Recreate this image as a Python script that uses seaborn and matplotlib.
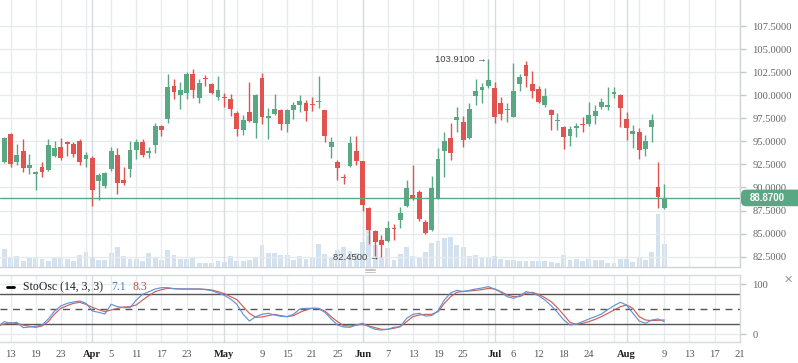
import numpy as np
import matplotlib
matplotlib.use("Agg")
import matplotlib.pyplot as plt
import seaborn as sns
from matplotlib.patches import FancyBboxPatch
from matplotlib.lines import Line2D
from matplotlib.transforms import IdentityTransform

# ---------------- data ----------------
opens = [94.49, 92.76, 95.83, 92.76, 93.95, 92.15, 91.50, 92.22, 91.89, 93.41,
         94.39, 94.93, 94.71, 95.04, 93.12, 93.19, 90.70, 90.16, 92.00, 93.52,
         90.81, 92.00, 94.06, 94.93, 93.74, 94.60, 96.70, 97.42, 101.00, 100.02,
         100.24, 102.30, 99.70, 101.86, 101.21, 99.80, 99.80, 99.59, 98.07, 96.23,
         98.18, 96.99, 101.86, 97.53, 97.96, 98.40, 96.88, 98.40, 98.94, 99.15,
         99.05, 99.30, 98.40, 94.39, 92.76, 91.13, 92.33, 93.95, 92.87, 87.77,
         85.28, 84.31, 84.20, 85.61, 86.47, 87.99, 89.18, 89.51, 86.26, 85.39,
         88.86, 93.95, 95.36, 97.31, 97.10, 95.36, 99.91, 100.56, 101.00, 100.78,
         99.15, 98.43, 97.64, 101.21, 103.28, 101.21, 100.67, 98.94, 98.40, 97.20,
         96.55, 95.58, 96.45, 96.88, 96.88, 97.75, 98.72, 98.76, 100.13, 100.02,
         97.42, 95.79, 96.01, 94.17, 96.55, 90.05, 87.77]
highs = [94.78, 95.51, 95.94, 94.71, 95.25, 93.63, 91.78, 92.76, 95.25, 95.04,
         95.36, 95.04, 94.89, 95.25, 93.84, 93.41, 91.57, 91.68, 94.42, 94.28,
         92.22, 95.04, 95.25, 95.25, 94.42, 96.99, 96.81, 102.30, 101.76, 101.43,
         102.51, 102.84, 101.76, 102.19, 101.32, 102.08, 100.24, 100.13, 98.29, 97.85,
         101.43, 100.13, 102.41, 98.61, 100.13, 98.50, 98.50, 99.26, 100.02, 99.48,
         99.80, 102.08, 98.40, 95.47, 92.98, 91.46, 95.58, 95.58, 92.87, 87.88,
         85.39, 84.85, 86.37, 86.04, 87.88, 90.81, 92.43, 89.73, 86.47, 91.24,
         94.28, 96.01, 96.99, 98.72, 97.75, 99.15, 101.76, 101.32, 103.91, 101.43,
         99.80, 99.15, 103.49, 102.30, 103.71, 102.62, 101.00, 100.78, 98.50, 98.07,
         96.66, 96.66, 96.99, 97.64, 99.26, 98.94, 99.70, 100.89, 100.89, 100.13,
         98.18, 96.77, 96.45, 95.69, 97.96, 92.76, 90.38]
lows = [92.62, 92.69, 92.25, 92.43, 91.68, 91.46, 89.73, 91.17, 91.82, 93.27,
        92.98, 93.41, 93.34, 92.43, 92.22, 87.99, 88.64, 89.94, 91.82, 89.29,
        90.27, 91.13, 93.09, 93.30, 93.19, 93.74, 95.58, 96.99, 99.59, 98.50,
        99.59, 99.70, 99.15, 101.00, 100.13, 99.48, 98.72, 97.75, 95.58, 95.69,
        97.10, 95.36, 96.88, 95.25, 97.85, 96.23, 96.01, 97.42, 98.18, 97.20,
        98.29, 98.61, 94.93, 93.19, 90.81, 90.38, 92.25, 92.43, 87.45, 83.87,
        82.57, 82.45, 84.09, 84.31, 85.61, 87.88, 88.64, 86.37, 84.96, 85.28,
        88.75, 91.13, 92.98, 96.01, 94.39, 95.25, 98.94, 99.15, 100.78, 96.99,
        97.31, 97.10, 97.64, 100.46, 100.89, 99.70, 99.15, 98.72, 96.23, 96.23,
        94.17, 94.49, 95.47, 96.01, 96.66, 96.88, 98.50, 98.40, 99.70, 96.55,
        95.14, 94.28, 93.09, 93.41, 94.93, 87.77, 87.66]
closes = [92.90, 95.40, 92.58, 93.52, 92.15, 92.43, 91.71, 91.68, 94.60, 94.28,
          93.23, 94.71, 93.63, 92.76, 93.52, 89.73, 91.35, 91.60, 93.95, 90.48,
          90.48, 94.06, 94.93, 93.52, 93.95, 96.66, 96.23, 100.89, 100.35, 100.56,
          102.30, 100.56, 101.32, 101.76, 100.24, 100.56, 99.70, 98.50, 96.34, 97.31,
          97.20, 100.02, 97.64, 97.75, 98.50, 96.88, 98.40, 98.94, 99.37, 98.29,
          98.94, 99.41, 95.58, 94.93, 92.11, 90.99, 94.82, 92.87, 88.10, 85.39,
          84.09, 83.76, 85.61, 85.50, 87.23, 89.94, 88.75, 86.58, 85.06, 89.94,
          93.09, 95.04, 93.74, 97.64, 95.14, 98.50, 100.46, 100.89, 101.65, 97.64,
          97.96, 98.54, 100.46, 101.97, 102.08, 100.46, 99.26, 99.91, 97.85, 97.31,
          95.47, 96.34, 96.66, 96.77, 97.85, 98.29, 99.26, 98.94, 100.35, 98.61,
          96.45, 96.12, 94.06, 95.04, 97.31, 88.97, 88.87]
volumes = [1070, 1830, 970, 1130, 630, 970, 970, 830, 630, 1070,
           970, 830, 630, 1230, 1530, 970, 730, 730, 1430, 2030,
           1130, 830, 830, 630, 1430, 1070, 730, 1730, 1230, 830,
           830, 970, 430, 430, 430, 630, 530, 1130, 630, 630,
           730, 970, 2230, 1430, 1430, 1230, 1230, 730, 1130, 830,
           970, 2330, 1330, 1070, 1730, 2000, 1600, 1400, 2530, 3900,
           2230, 1000, 1930, 730, 1330, 2030, 1130, 930, 1530, 2430,
           2630, 2930, 3030, 2230, 2030, 1130, 1230, 1030, 1030, 1130,
           830, 730, 730, 630, 630, 630, 630, 630, 530, 430,
           1230, 730, 830, 630, 830, 730, 730, 430, 430, 830,
           830, 530, 930, 730, 1530, 5330, 2330]
stoch_k = [15.3, 25.3, 22, 24, 13.3, 14.6, 16, 18.6, 30.6, 46.6,
           56.6, 61.9, 64.6, 66.6, 61.9, 46.6, 44, 40.6, 60, 55.3,
           53.3, 53.3, 68.6, 80, 85.3, 90.6, 93.3, 93.3, 91.3, 90.6,
           90.6, 90.6, 90.6, 89.3, 87.3, 82.6, 78, 70.6, 60, 40,
           26.6, 35.3, 40, 42, 38.6, 36, 35.3, 40, 50.6, 52,
           52, 51.3, 44, 30.6, 18.6, 14.6, 14, 18.6, 22, 15.3,
           10, 8.6, 10, 14, 15.3, 31.9, 39.9, 42, 36.6, 37.3,
           47.3, 68.6, 82.6, 88, 85.3, 88, 90.6, 92.6, 95.3, 90.6,
           84, 75.3, 72, 77.3, 85.3, 82.6, 77.3, 68.6, 57.3, 44,
           28.6, 18.6, 20.6, 25.3, 30.6, 35.3, 40.6, 49.3, 57.3, 64,
           58.6, 42, 26.6, 22, 28.6, 30.6, 25.3]
stoch_d = [17.3, 20.6, 23.3, 21.3, 18.6, 16, 14, 16.6, 25.3, 40.6,
           51.9, 57.3, 61.9, 63.9, 59.9, 53.9, 49.3, 45.3, 48.6, 51.9,
           54.6, 55.3, 58.6, 68.6, 77.3, 85.3, 89.3, 91.9, 91.3, 90.6,
           90.6, 90.6, 90.6, 89.9, 88.6, 85.3, 81.3, 75.3, 69.3, 55.3,
           41.9, 33.9, 34.6, 37.3, 39.9, 37.3, 35.3, 37.3, 43.9, 48.6,
           52, 52, 46.6, 35.3, 25.3, 17.3, 16.6, 18.6, 19.9, 16.6,
           13.3, 10, 10, 12, 15.3, 25.3, 35.3, 38.6, 39.9, 39.9,
           45.3, 61.9, 75.3, 83.9, 85.9, 86.6, 87.9, 89.3, 91.9, 90.6,
           85.3, 78.6, 75.3, 75.3, 82, 83.9, 79.9, 73.3, 65.3, 53.3,
           38.6, 23.9, 19.9, 21.9, 25.3, 29.9, 35.3, 41.9, 48.6, 55.3,
           58.6, 51.9, 35.3, 28.6, 27.3, 28, 28.6]

# date axis: tick at candle index -> label ; month starts are bold
tick_index = [2, 6, 10, 15, 18, 22, 26, 30, 36, 42, 46, 50, 54, 58, 62, 66, 70, 74,
              79, 82, 86, 90, 94, 100, 106, 110, 114, 118]
tick_labels = ["13", "19", "23", "Apr", "5", "11", "17", "23", "May", "9", "15", "21", "25",
               "Jun", "7", "13", "19", "25", "Jul", "6", "12", "18", "24", "Aug", "9",
               "13", "17", "21"]
month_labels = ["Apr", "May", "Jun", "Jul", "Aug"]
price_ticks = [82.5, 85.0, 87.5, 90.0, 92.5, 95.0, 97.5, 100.0, 102.5, 105.0, 107.5]
osc_levels = [20, 50, 80]
last_price = 88.87
legend_name = "StoOsc (14, 3, 3)"
legend_k, legend_d = "7.1", "8.3"

# ---------------- style ----------------
sns.set_theme(style="white")
plt.rcParams['font.family'] = ['Liberation Serif', 'DejaVu Sans']

GREEN = "#5aa883"
RED = "#e0534e"
GRID = "#e8ebee"
MONTH = "#d9dcdf"
VOL = "#c3d6ea"
KCOL = "#6193d6"
DCOL = "#cf5e59"

W, H = 798, 363
fig = plt.figure(figsize=(W / 100, H / 100), dpi=100, facecolor="white")
ax = fig.add_axes([0, 1 - 267.3 / H, 740 / W, 267.3 / H])
ax2 = fig.add_axes([0, 1 - 342 / H, 740 / W, 67 / H])

n = len(closes)
idx = np.arange(n)
xlim = (0.3165, 118.04)

# ---- volume on a twin axis (behind candles) ----
axv = ax.twinx()
axv.bar(idx, volumes, width=0.76, color=VOL, alpha=0.7, linewidth=0)
axv.set_ylim(0, max(volumes) * 267.3 / 53.3)
axv.set_yticks([])
for s in axv.spines.values():
    s.set_visible(False)
ax.set_zorder(axv.get_zorder() + 1)
ax.patch.set_visible(False)
axv.set_xlim(*xlim)

# ---- grid ----
grid_idx = list(range(2, 119, 4))
month_idx = [t for t, l in zip(tick_index, tick_labels) if l in month_labels]
for a in (ax, ax2):
    for g in grid_idx:
        a.axvline(g, color=GRID, lw=1, zorder=0)
    for m in month_idx:
        a.axvline(m, color=MONTH, lw=1, zorder=0.5)
for p in price_ticks:
    ax.axhline(p, color=GRID, lw=1, zorder=0)

# ---- candles ----
o = np.array(opens); c = np.array(closes)
up = c >= o
colors = np.where(up, GREEN, RED)
ax.vlines(idx, lows, highs, colors=colors, lw=1, zorder=3)
body_bottom = np.minimum(o, c)
body_h = np.maximum(np.abs(c - o), 0.1)
ax.bar(idx, body_h, bottom=body_bottom, width=0.76, color=colors, linewidth=0, zorder=4)

ax.axhline(last_price, color=GREEN, lw=1, zorder=5)

# hi / lo annotations
hi_i = int(np.argmax(highs)); lo_i = int(np.argmin(lows))
ax.text(hi_i - 0.25, highs[hi_i], f"{highs[hi_i]:.4f} \u2192", ha="right", va="center",
        fontsize=6.8, color="#444", family=["Liberation Sans", "DejaVu Sans"], zorder=6)
ax.text(lo_i - 0.35, lows[lo_i], f"{lows[lo_i]:.4f} \u2192", ha="right", va="center",
        fontsize=6.8, color="#444", family=["Liberation Sans", "DejaVu Sans"], zorder=6)

ax.set_xlim(*xlim)
ax.set_ylim(81.35, 110.32)
ax.set_xticks([])
ax.yaxis.tick_right()
ax.set_yticks(price_ticks)
ax.set_yticklabels([f"{p:.4f}" for p in price_ticks])
ax.tick_params(axis="y", length=4, width=1, color="#c8c8c8", labelcolor="#666",
               labelsize=7.6, pad=5)
for side, s in ax.spines.items():
    s.set_visible(side in ("right", "bottom"))
    s.set_color("#d0d3d6")
    s.set_linewidth(1)

# ---- oscillator ----
sns.lineplot(x=idx, y=stoch_k, ax=ax2, color=KCOL, lw=0.85, zorder=4)
sns.lineplot(x=idx, y=stoch_d, ax=ax2, color=DCOL, lw=0.85, zorder=3)
for lv in osc_levels:
    ls = (0, (5, 4)) if lv == 50 else "-"
    ax2.axhline(lv, color="#555", lw=1, ls=ls, zorder=2)
for lv in (0, 100):
    ax2.axhline(lv, color=GRID, lw=1, zorder=0)
ax2.set_xlim(*xlim)
ax2.set_ylim(-15.4, 118.6)
ax2.yaxis.tick_right()
ax2.set_yticks([0, 100])
ax2.set_yticklabels(["0", "100"])
ax2.tick_params(axis="y", length=4, width=1, color="#c8c8c8", labelcolor="#666",
                labelsize=7.6, pad=5)
ax2.set_xticks(tick_index)
ax2.set_xticklabels(tick_labels)
ax2.tick_params(axis="x", length=0, labelsize=7.6, labelcolor="#555", pad=6)
for lbl in ax2.get_xticklabels():
    if lbl.get_text() in month_labels:
        lbl.set_fontweight("bold")
        lbl.set_color("#222")
ax2.set_ylabel(""); ax2.set_xlabel("")
for side, s in ax2.spines.items():
    s.set_visible(side in ("right", "top", "bottom"))
    s.set_color("#d8dbde")
    s.set_linewidth(1)

# legend of oscillator
ly = 1 - 287 / H
fig.add_artist(Line2D([7 / W, 14 / W], [ly, ly], color="black", lw=2))
fig.text(23 / W, ly, legend_name, ha="left", va="center", fontsize=8.5, color="#222")
fig.text(111 / W, ly, legend_k, ha="left", va="center", fontsize=8.5, color="#4f7fbf")
fig.text(132.5 / W, ly, legend_d, ha="left", va="center", fontsize=8.5, color="#c0504d")

# close icon and resize grip
fig.text(788 / W, 1 - 279.5 / H, "\u2715", ha="center", va="center", fontsize=8,
         color="#9a9a9a", family=["DejaVu Sans"])
for gy in (268.6, 270.4, 272.2):
    fig.add_artist(Line2D([365 / W, 375 / W], [1 - gy / H] * 2, color="#bbbbbb", lw=0.6))

# last price tag
fig.canvas.draw()
ydisp = ax.transData.transform((0, last_price))[1]
tag = FancyBboxPatch((741, ydisp - 8.3), 70, 16.6,
                     boxstyle="round,pad=0,rounding_size=5",
                     transform=IdentityTransform(), fc=GREEN, ec="none", zorder=20)
fig.add_artist(tag)
fig.text(750 / W, ydisp / H, f"{last_price:.4f}", ha="left", va="center",
         fontsize=7, fontweight="bold", color="white",
         family=["Liberation Sans", "DejaVu Sans"], zorder=21)

fig.savefig("out.png", dpi=100, facecolor="white")
